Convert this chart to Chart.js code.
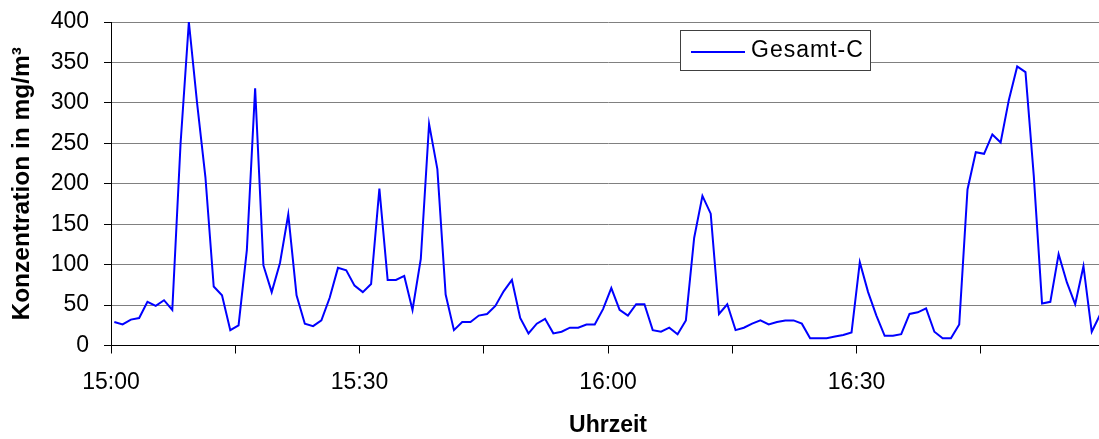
<!DOCTYPE html>
<html>
<head>
<meta charset="utf-8">
<script src="https://cdn.jsdelivr.net/npm/chart.js@4/dist/chart.umd.min.js"></script>
<style>
  html, body { margin: 0; padding: 0; background: #fff; overflow: hidden; }
  #wrap { position: relative; width: 1105px; height: 439px; }
  canvas { display: block; }
</style>
</head>
<body>
<div id="wrap"><canvas id="c"></canvas></div>
<script>
// ---- data ----
const seriesName = 'Gesamt-C';
const sampleOffsetMin = 0.4;   // first sample a few seconds after 15:00
const sampleStepMin = 1;       // one sample per minute
const concentration = [
  29, 26, 32, 34, 54, 49, 56, 44, 250, 400,
  299, 208, 73, 62, 19, 25, 118, 318, 99, 66,
  102, 162, 62, 27, 24, 31, 59, 96, 93, 74,
  66, 76, 194, 81, 81, 86, 44, 107, 274, 218,
  63, 19, 29, 29, 37, 39, 49, 67, 81, 34,
  15, 27, 33, 15, 17, 22, 22, 26, 26, 45,
  71, 44, 37, 51, 51, 19, 17, 22, 14, 31,
  133, 185, 163, 39, 51, 19, 22, 27, 31, 26,
  29, 31, 31, 27, 9, 9, 9, 11, 13, 16,
  103, 66, 37, 12, 12, 14, 39, 41, 46, 17,
  9, 9, 26, 193, 239, 237, 261, 251, 304, 345,
  338, 210, 52, 54, 113, 78, 51, 98, 17, 38
];
const xTickMinutes = [0, 30, 60, 90];
const xTickLabels = ['15:00', '15:30', '16:00', '16:30'];
const yAxisTitle = 'Konzentration in mg/m³';
const xAxisTitle = 'Uhrzeit';

const points = concentration.map((v, i) => ({ x: sampleOffsetMin + i * sampleStepMin, y: v }));

Chart.defaults.font.family = "'Liberation Sans', Arial, sans-serif";
Chart.defaults.color = '#000';

const legendBox = {
  id: 'legendBox',
  afterDraw(chart) {
    const ctx = chart.ctx;
    const ds = chart.data.datasets[0];
    ctx.save();
    ctx.fillStyle = '#fff';
    ctx.fillRect(681, 30, 190, 40);
    ctx.strokeStyle = '#404040';
    ctx.lineWidth = 1;
    ctx.strokeRect(680.5, 30.5, 190, 40);
    ctx.strokeStyle = ds.borderColor;
    ctx.lineWidth = 2;
    ctx.beginPath();
    ctx.moveTo(691, 52);
    ctx.lineTo(745, 52);
    ctx.stroke();
    ctx.fillStyle = '#000';
    ctx.font = "23px 'Liberation Sans', Arial, sans-serif";
    ctx.textBaseline = 'middle';
    ctx.textAlign = 'left';
    try { ctx.letterSpacing = '1px'; } catch (e) {}
    ctx.fillText(ds.label, 751, 51);
    ctx.restore();
  }
};

new Chart(document.getElementById('c'), {
  type: 'line',
  data: {
    datasets: [{
      label: seriesName,
      data: points,
      borderColor: '#0000ff',
      borderWidth: 2,
      pointRadius: 0,
      pointHoverRadius: 0,
      pointBorderWidth: 0,
      tension: 0,
      fill: false
    }]
  },
  options: {
    responsive: true,
    maintainAspectRatio: false,
    animation: false,
    layout: { autoPadding: false, padding: { top: 22, left: 0, right: 0, bottom: 0 } },
    plugins: { legend: { display: false }, tooltip: { enabled: false } },
    scales: {
      x: {
        type: 'linear',
        min: 0,
        max: 120,
        afterFit(scale) { scale.height = 93.5; scale.paddingLeft = 0; scale.paddingRight = 0; },
        ticks: {
          stepSize: 15,
          autoSkip: false,
          maxRotation: 0,
          padding: 15,
          font: { size: 23 },
          color: '#000',
          callback(v) {
            const i = xTickMinutes.indexOf(v);
            return i >= 0 ? xTickLabels[i] : '';
          }
        },
        grid: { drawOnChartArea: false, drawTicks: true, tickLength: 8, tickColor: '#000', tickWidth: 1 },
        border: { display: true, color: '#000', width: 1 },
        title: { display: true, text: xAxisTitle, font: { size: 23, weight: 'bold' }, padding: { top: 0, bottom: 0 }, color: '#000' }
      },
      y: {
        min: 0,
        max: 400,
        afterFit(scale) { scale.width = 111; scale.paddingTop = 0; scale.paddingBottom = 0; },
        ticks: { stepSize: 50, padding: 15, font: { size: 23 }, color: '#000' },
        grid: { color: '#808080', lineWidth: 1, drawTicks: true, tickLength: 7, tickColor: '#000', tickWidth: 1 },
        border: { display: true, color: '#000', width: 1 },
        title: { display: true, text: yAxisTitle, font: { size: 24.5, weight: 'bold' }, padding: { top: 8, bottom: 0 }, color: '#000' }
      }
    }
  },
  plugins: [legendBox]
});
</script>
</body>
</html>
